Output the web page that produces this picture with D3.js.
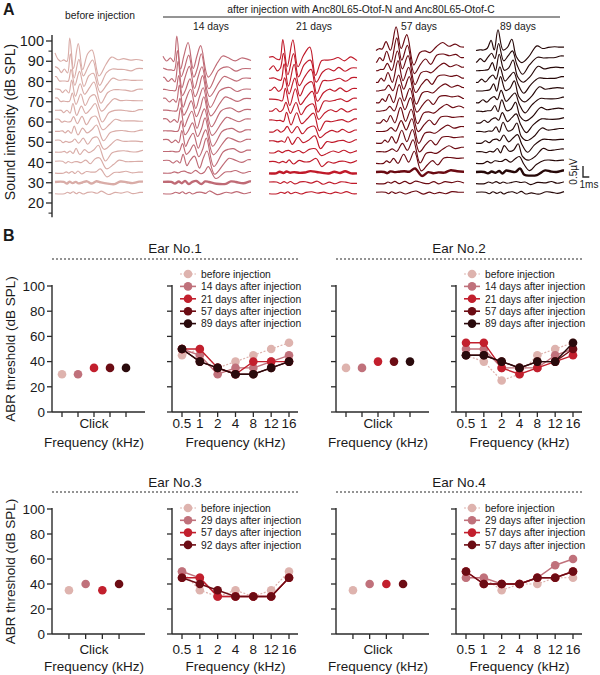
<!DOCTYPE html>
<html><head><meta charset="utf-8">
<script src="https://cdn.jsdelivr.net/npm/d3@7"></script>
<style>
body{margin:0;background:#fff}
text{font-family:"Liberation Sans",Arial,Helvetica,sans-serif;fill:#1a1a1a}
</style>
</head><body>
<svg id="chart" width="600" height="675"></svg>
<script>
// ---------------- DATA ----------------
// Panel A: ABR traces (time in ms, amplitude in µV)
const groupLabels = ["before injection", "14 days", "21 days", "57 days", "89 days"];
const groupThresholds = [30, 30, 35, 35, 35];
const levels90 = [90, 85, 80, 75, 70, 65, 60, 55, 50, 45, 40, 35, 30, 25];
const levels95 = [95, 90, 85, 80, 75, 70, 65, 60, 55, 50, 45, 40, 35, 30, 25];
const earlySplitMs = [4.6, 4.6, 4.8, 4.0, 4.6];

const waveBefore = [[0,0.35],[0.5,0.12],[0.9,-0.05],[1.4,0.08],[1.9,-0.05],[2.35,1.1],[2.95,-0.35],[3.7,0.75],[4.4,-0.35],[5.2,0.3],[5.9,0.55],[7.0,-0.7],[8.1,-0.1],[9.0,0.15],[10.0,0.05],[10.9,0.15],[12.0,0.0],[12.9,0.1],[14,0]];
const wave14d = [[0,0.2],[0.6,0.05],[1.2,0.1],[1.7,0],[2.2,1.1],[2.8,-0.3],[3.3,0.2],[4.0,0.8],[4.8,-0.3],[5.4,0.2],[6.0,0.75],[7.2,-0.75],[8.7,0.0],[9.5,0.2],[10.3,0.15],[11.5,0.05],[12.5,0.1],[14,0.05]];
const wave21d = [[0,0.15],[0.6,0.25],[1.2,0.05],[1.7,0.1],[2.2,0.95],[2.9,-0.2],[3.8,0.95],[4.6,-0.3],[5.5,0.3],[6.5,0.6],[7.4,-0.6],[8.4,0.0],[9.3,0.1],[10.2,0.05],[11.0,0.15],[12.0,0.05],[13.0,0.15],[14,0.05]];
const wave57d = [[0,0.0],[0.5,0.15],[1.0,0.05],[1.6,0.45],[2.3,0.0],[3.2,1.15],[4.0,0.1],[4.9,0.7],[6.0,-0.6],[7.0,-0.1],[7.8,0.05],[8.6,-0.1],[9.6,0.25],[10.6,0.35],[11.6,0.2],[12.6,0.35],[13.4,0.15],[14,0.2]];
const wave89d = [[0,0.0],[0.6,0.1],[1.2,0.0],[1.8,0.15],[2.4,0.45],[2.9,0.1],[3.5,0.95],[4.3,0.0],[5.0,0.2],[5.7,0.5],[6.4,-0.2],[7.3,-0.55],[8.4,-0.2],[9.7,0.2],[10.6,0.1],[11.5,0.2],[12.5,0.15],[13.3,0.2],[14,0.15]];

const ampEarlyBefore = [1.0,0.7,0.55,0.45,0.4,0.32,0.27,0.22,0.18,0.14,0.08,0.04,0.02,0.0];
const ampLateBefore  = [1.0,0.85,0.75,0.7,0.65,0.6,0.55,0.5,0.5,0.5,0.45,0.22,0.1,0.05];
const latBefore      = [0,0.1,0.2,0.3,0.4,0.5,0.6,0.7,0.8,1.0,1.2,1.3,1.4,1.5];
const ampEarly14d = [1.0,0.9,0.8,0.7,0.65,0.6,0.55,0.5,0.45,0.4,0.3,0.1,0.04,0];
const ampLate14d  = [1.0,1.0,0.95,0.9,0.9,0.85,0.85,0.8,0.8,0.8,0.75,0.3,0.1,0.05];
const lat14d      = [0,0.1,0.2,0.3,0.4,0.5,0.6,0.7,0.8,0.9,1.0,1.2,1.3,1.4];
const ampEarly21d = [1.0,0.9,0.8,0.7,0.6,0.5,0.42,0.32,0.22,0.14,0.08,0.04,0.02,0];
const ampLate21d  = [1.0,0.9,0.85,0.8,0.72,0.65,0.6,0.5,0.42,0.32,0.24,0.1,0.05,0.03];
const lat21d      = [0,0.1,0.2,0.3,0.4,0.5,0.6,0.7,0.8,0.9,1.0,1.1,1.2,1.3];
const ampEarly57d = [1.0,0.9,0.85,0.8,0.7,0.65,0.6,0.55,0.5,0.45,0.4,0.3,0.1,0.03,0];
const ampLate57d  = [1.0,1.0,0.95,0.9,0.9,0.85,0.85,0.8,0.8,0.8,0.75,0.7,0.2,0.08,0.05];
const lat57d      = [0,0.1,0.2,0.3,0.4,0.5,0.6,0.7,0.8,0.9,1.0,1.2,1.3,1.4,1.5];
const ampEarly89d = [1.0,0.9,0.8,0.75,0.7,0.6,0.55,0.5,0.45,0.4,0.3,0.2,0.08,0.03,0];
const ampLate89d  = [1.0,1.0,0.95,0.9,0.9,0.85,0.8,0.8,0.75,0.75,0.7,0.6,0.3,0.08,0.05];
const lat89d      = [0,0.1,0.2,0.3,0.4,0.5,0.6,0.7,0.8,0.9,1.0,1.2,1.3,1.4,1.5];

const noiseA = [0.03,-0.04,0.05,-0.02,0.04,-0.05,0.02,0.05,-0.03,0.04,-0.04,0.03,-0.05,0.04,0.02,-0.03,0.05,-0.02,0.03];
const noiseB = [-0.04,0.03,-0.02,0.05,-0.04,0.03,-0.05,0.02,0.04,-0.03,0.05,-0.04,0.03,-0.02,0.05,-0.04,0.02,0.04,-0.03];
const soundTicks = [20, 30, 40, 50, 60, 70, 80, 90, 100];
const soundMinorTicks = [15, 25, 35, 45, 55, 65, 75, 85, 95];

// Panel B: ABR thresholds (dB SPL)
const freqLabels = ["0.5", "1", "2", "4", "8", "12", "16"];
const thresholdTicks = [0, 20, 40, 60, 80, 100];

const ear1Series = ["before injection", "14 days after injection", "21 days after injection", "57 days after injection", "89 days after injection"];
const ear1Click = [30, 30, 35, 35, 35];
const ear1Before = [45, 50, 35, 40, 45, 50, 55];
const ear1D14 = [50, 45, 30, 35, 35, 40, 45];
const ear1D21 = [50, 50, 35, 30, 40, 40, 40];
const ear1D57 = [50, 40, 35, 30, 30, 35, 40];
const ear1D89 = [50, 40, 35, 30, 30, 35, 40];

const ear2Series = ["before injection", "14 days after injection", "21 days after injection", "57 days after injection", "89 days after injection"];
const ear2Click = [35, 35, 40, 40, 40];
const ear2Before = [45, 40, 25, 30, 45, 50, 55];
const ear2D14 = [50, 50, 35, 35, 35, 45, 50];
const ear2D21 = [55, 55, 35, 30, 35, 40, 45];
const ear2D57 = [45, 45, 40, 35, 40, 40, 50];
const ear2D89 = [45, 45, 40, 35, 40, 40, 55];

const ear3Series = ["before injection", "29 days after injection", "57 days after injection", "92 days after injection"];
const ear3Click = [35, 40, 35, 40];
const ear3Before = [50, 35, 30, 35, 30, 35, 50];
const ear3D29 = [50, 45, 30, 30, 30, 30, 45];
const ear3D57 = [45, 45, 30, 30, 30, 30, 45];
const ear3D92 = [45, 40, 35, 30, 30, 30, 45];

const ear4Series = ["before injection", "29 days after injection", "57 days after injection", "57 days after injection"];
const ear4Click = [35, 40, 40, 40];
const ear4Before = [45, 45, 35, 40, 40, 45, 45];
const ear4D29 = [45, 45, 40, 40, 45, 55, 60];
const ear4D57 = [50, 40, 40, 40, 45, 45, 50];
const ear4D57b = [50, 40, 40, 40, 45, 45, 50];

// ---------------- STYLE ----------------
const cBefore = "#deb3ae", c14 = "#c0717b", c21 = "#c21f2d", c57 = "#6c0c14", c89 = "#2a0a0c";
const traceColors = ["#d9aca7", "#bf6a75", "#c01a2a", "#6a0a12", "#260808"];
const axisColor = "#2a2a2a";

const svg = d3.select("#chart");

// ---------------- PANEL A ----------------
svg.append("text").attr("x", 3).attr("y", 15).attr("font-size", 16).attr("font-weight", "bold").text("A");

const ySound = d3.scaleLinear().domain([20, 100]).range([203, 41]);
const uvPx = d3.scaleLinear().domain([0, 0.5]).range([0, 11]);

const gA = svg.append("g");
gA.append("line").attr("x1", 52).attr("x2", 52).attr("y1", ySound(103)).attr("y2", ySound(13))
  .attr("stroke", axisColor).attr("stroke-width", 1.4);
gA.selectAll(".mt").data(soundTicks).join("line")
  .attr("x1", 46).attr("x2", 52).attr("y1", d => ySound(d)).attr("y2", d => ySound(d))
  .attr("stroke", axisColor).attr("stroke-width", 1.3);
gA.selectAll(".mn").data(soundMinorTicks).join("line")
  .attr("x1", 48.5).attr("x2", 52).attr("y1", d => ySound(d)).attr("y2", d => ySound(d))
  .attr("stroke", axisColor).attr("stroke-width", 1.1);
gA.selectAll(".tl").data(soundTicks).join("text")
  .attr("x", 44).attr("y", d => ySound(d)).attr("dy", "0.36em").attr("text-anchor", "end")
  .attr("font-size", 14.5).text(d => d);
svg.append("text").attr("transform", "translate(15,122) rotate(-90)").attr("text-anchor", "middle")
  .attr("font-size", 14).text("Sound intensity (dB SPL)");

const groups = [
  {wave: waveBefore, levels: levels90, aE: ampEarlyBefore, aL: ampLateBefore, lat: latBefore},
  {wave: wave14d, levels: levels90, aE: ampEarly14d, aL: ampLate14d, lat: lat14d},
  {wave: wave21d, levels: levels90, aE: ampEarly21d, aL: ampLate21d, lat: lat21d},
  {wave: wave57d, levels: levels95, aE: ampEarly57d, aL: ampLate57d, lat: lat57d},
  {wave: wave89d, levels: levels95, aE: ampEarly89d, aL: ampLate89d, lat: lat89d}
];
const groupX0 = [55, 163, 269, 376, 476];
const groupW = 88;
const labelX = [100, 211, 314, 419, 518];

groups.forEach((g, gi) => {
  const xT = d3.scaleLinear().domain([0, 14]).range([groupX0[gi], groupX0[gi] + groupW]);
  const split = earlySplitMs[gi];
  const line = d3.line().x(d => xT(d[0])).y(d => d[1]).curve(d3.curveCatmullRom.alpha(0.5));
  g.levels.forEach((lv, li) => {
    const noise = li % 2 === 0 ? noiseA : noiseB;
    const base = ySound(lv);
    const val = (k) => {
      const d = g.wave[k];
      return d[1] * (d[0] < split ? g.aE[li] : g.aL[li]) + noise[k % noise.length];
    };
    const pts = [];
    if (g.lat[li] > 0.05) pts.push([0, val(0)]);
    g.wave.forEach((d, k) => {
      const t = d[0] + g.lat[li];
      if (t <= 14) pts.push([t, val(k)]);
    });
    if (pts[pts.length - 1][0] < 13.95) pts.push([14, pts[pts.length - 1][1]]);
    const px = pts.map(p => [p[0], base - uvPx(p[1])]);
    gA.append("path").attr("d", line(px)).attr("fill", "none")
      .attr("stroke", traceColors[gi])
      .attr("stroke-width", lv === groupThresholds[gi] ? 2.4 : 1.15)
      .attr("stroke-linejoin", "round");
  });
  gA.append("text").attr("x", labelX[gi]).attr("y", gi === 0 ? 19 : 30).attr("text-anchor", "middle")
    .attr("font-size", 10.3).text(groupLabels[gi]);
});
gA.append("text").attr("x", 361).attr("y", 12.5).attr("text-anchor", "middle").attr("font-size", 10.3)
  .text("after injection with Anc80L65-Otof-N and Anc80L65-Otof-C");
gA.append("line").attr("x1", 163).attr("x2", 560).attr("y1", 17).attr("y2", 17)
  .attr("stroke", axisColor).attr("stroke-width", 1);

// scale bar
const msPx = d3.scaleLinear().domain([0, 14]).range([0, groupW]);
const sbX = 583, sbY = 177;
gA.append("path").attr("d", `M${sbX},${sbY - uvPx(0.5)}V${sbY}H${sbX + msPx(1)}`)
  .attr("fill", "none").attr("stroke", axisColor).attr("stroke-width", 1.4);
gA.append("text").attr("transform", `translate(577,${sbY - uvPx(0.25)}) rotate(-90)`).attr("text-anchor", "middle")
  .attr("font-size", 10).text("0.5µV");
gA.append("text").attr("x", 589).attr("y", 188).attr("text-anchor", "middle").attr("font-size", 10).text("1ms");

// ---------------- PANEL B ----------------
svg.append("text").attr("x", 3).attr("y", 241).attr("font-size", 16).attr("font-weight", "bold").text("B");

function earPanel(cfg) {
  const g = svg.append("g");
  const y = d3.scaleLinear().domain([0, 100]).range([cfg.y0, cfg.y100]);
  // title & dotted line
  g.append("text").attr("x", (cfg.clickX0 + cfg.freqX0 + 126) / 2).attr("y", cfg.titleY).attr("text-anchor", "middle")
    .attr("font-size", 13.5).text(cfg.title);
  g.append("line").attr("x1", cfg.clickX0).attr("x2", cfg.freqX0 + 126).attr("y1", cfg.dotY).attr("y2", cfg.dotY)
    .attr("stroke", axisColor).attr("stroke-width", 1.2).attr("stroke-dasharray", "2,2");
  if (cfg.yLabel) {
    g.append("text").attr("transform", `translate(15,${(cfg.y0 + cfg.y100) / 2}) rotate(-90)`)
      .attr("text-anchor", "middle").attr("font-size", 13.5).text("ABR threshold (dB SPL)");
  }
  const drawY = (x0, labels) => {
    g.append("line").attr("x1", x0).attr("x2", x0).attr("y1", y(0)).attr("y2", y(100) - 1)
      .attr("stroke", axisColor).attr("stroke-width", 1.4);
    g.selectAll(null).data(thresholdTicks).join("line")
      .attr("x1", x0 - 5).attr("x2", x0).attr("y1", d => y(d)).attr("y2", d => y(d))
      .attr("stroke", axisColor).attr("stroke-width", 1.3);
    if (labels) {
      g.selectAll(null).data(thresholdTicks).join("text")
        .attr("x", x0 - 7).attr("y", d => y(d)).attr("dy", "0.36em").attr("text-anchor", "end")
        .attr("font-size", 13.5).text(d => d);
    }
  };
  // click panel
  const n = cfg.click.length;
  const step = n === 5 ? 16 : 16.7;
  const cx = cfg.clickX0 + 42;
  const xc = d3.scalePoint().domain(d3.range(n)).range([cx - step * (n - 1) / 2, cx + step * (n - 1) / 2]);
  drawY(cfg.clickX0, cfg.yLabel);
  g.append("line").attr("x1", cfg.clickX0).attr("x2", cfg.clickX0 + 93).attr("y1", y(0)).attr("y2", y(0))
    .attr("stroke", axisColor).attr("stroke-width", 1.4);
  g.selectAll(null).data(d3.range(n)).join("line")
    .attr("x1", d => xc(d)).attr("x2", d => xc(d)).attr("y1", y(0)).attr("y2", y(0) + 5)
    .attr("stroke", axisColor).attr("stroke-width", 1.3);
  g.selectAll(null).data(cfg.click).join("circle")
    .attr("cx", (d, i) => xc(i)).attr("cy", d => y(d)).attr("r", 4.3).attr("fill", (d, i) => cfg.colors[i]);
  g.append("text").attr("x", cx).attr("y", cfg.tickLabelY).attr("text-anchor", "middle").attr("font-size", 13.5).text("Click");
  g.append("text").attr("x", cx).attr("y", cfg.axisTitleY).attr("text-anchor", "middle").attr("font-size", 13.5).text("Frequency (kHz)");

  // frequency panel
  const xf = d3.scalePoint().domain(freqLabels).range([cfg.freqX0 + 10, cfg.freqX0 + 117]);
  drawY(cfg.freqX0, false);
  g.append("line").attr("x1", cfg.freqX0).attr("x2", cfg.freqX0 + 126).attr("y1", y(0)).attr("y2", y(0))
    .attr("stroke", axisColor).attr("stroke-width", 1.4);
  g.selectAll(null).data(freqLabels).join("line")
    .attr("x1", d => xf(d)).attr("x2", d => xf(d)).attr("y1", y(0)).attr("y2", y(0) + 5)
    .attr("stroke", axisColor).attr("stroke-width", 1.3);
  g.selectAll(null).data(freqLabels).join("text")
    .attr("x", d => xf(d)).attr("y", cfg.tickLabelY).attr("text-anchor", "middle").attr("font-size", 13.5).text(d => d);
  g.append("text").attr("x", cfg.freqX0 + 63.5).attr("y", cfg.axisTitleY).attr("text-anchor", "middle")
    .attr("font-size", 13.5).text("Frequency (kHz)");

  const line = d3.line().x((d, i) => xf(freqLabels[i])).y(d => y(d));
  cfg.series.forEach((vals, si) => {
    const dashed = si === 0;
    g.append("path").attr("d", line(vals)).attr("fill", "none").attr("stroke", cfg.colors[si])
      .attr("stroke-width", dashed ? 1.2 : 1.4).attr("stroke-dasharray", dashed ? "2,1.6" : null);
    g.selectAll(null).data(vals).join("circle")
      .attr("cx", (d, i) => xf(freqLabels[i])).attr("cy", d => y(d)).attr("r", 4.3).attr("fill", cfg.colors[si]);
  });

  // legend
  const lx = cfg.freqX0 + 8;
  cfg.names.forEach((name, i) => {
    const ly = cfg.legendY0 + i * cfg.legendStep;
    g.append("line").attr("x1", lx).attr("x2", lx + 16).attr("y1", ly).attr("y2", ly)
      .attr("stroke", cfg.colors[i]).attr("stroke-width", i === 0 ? 1.2 : 1.6)
      .attr("stroke-dasharray", i === 0 ? "2,1.6" : null);
    g.append("circle").attr("cx", lx + 8).attr("cy", ly).attr("r", 4.3).attr("fill", cfg.colors[i]);
    g.append("text").attr("x", lx + 21).attr("y", ly).attr("dy", "0.36em").attr("font-size", 10.3).text(name);
  });
}

const colors5 = [cBefore, c14, c21, c57, c89];
const colors4 = [cBefore, c14, c21, c57];

earPanel({title: "Ear No.1", clickX0: 52, freqX0: 172, y0: 412, y100: 286, titleY: 253, dotY: 259,
  yLabel: true, tickLabelY: 428, axisTitleY: 447, legendY0: 274, legendStep: 12.4,
  names: ear1Series, colors: colors5, click: ear1Click,
  series: [ear1Before, ear1D14, ear1D21, ear1D57, ear1D89]});
earPanel({title: "Ear No.2", clickX0: 336, freqX0: 456, y0: 412, y100: 286, titleY: 253, dotY: 259,
  yLabel: false, tickLabelY: 428, axisTitleY: 447, legendY0: 274, legendStep: 12.4,
  names: ear2Series, colors: colors5, click: ear2Click,
  series: [ear2Before, ear2D14, ear2D21, ear2D57, ear2D89]});
earPanel({title: "Ear No.3", clickX0: 52, freqX0: 172, y0: 634, y100: 509, titleY: 487, dotY: 492,
  yLabel: true, tickLabelY: 654, axisTitleY: 671, legendY0: 508, legendStep: 12.3,
  names: ear3Series, colors: colors4, click: ear3Click,
  series: [ear3Before, ear3D29, ear3D57, ear3D92]});
earPanel({title: "Ear No.4", clickX0: 336, freqX0: 456, y0: 634, y100: 509, titleY: 487, dotY: 492,
  yLabel: false, tickLabelY: 654, axisTitleY: 671, legendY0: 508, legendStep: 12.3,
  names: ear4Series, colors: colors4, click: ear4Click,
  series: [ear4Before, ear4D29, ear4D57, ear4D57b]});
</script>
</body></html>
